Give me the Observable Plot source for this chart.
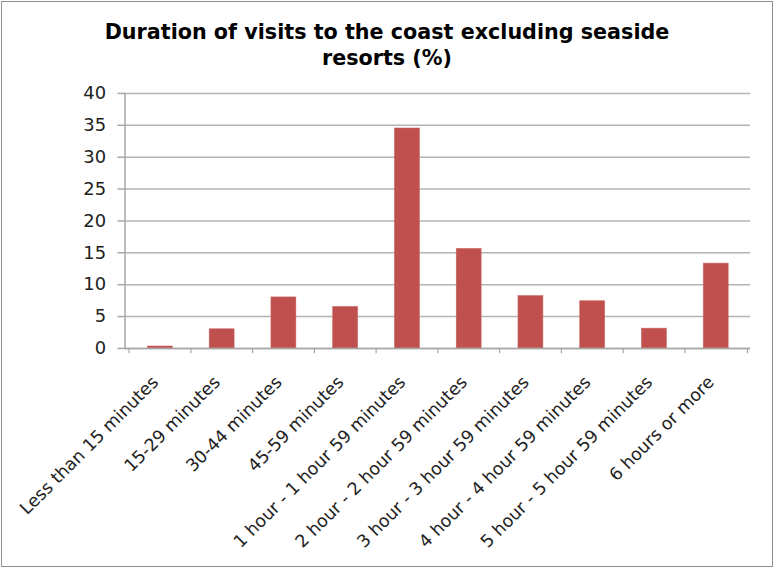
<!DOCTYPE html>
<html>
<head>
<meta charset="utf-8">
<script src="https://cdn.jsdelivr.net/npm/d3@7"></script>
<script src="https://cdn.jsdelivr.net/npm/@observablehq/plot@0.6"></script>
<style>
  html, body { margin: 0; padding: 0; background: #fff; }
  #frame {
    position: relative; box-sizing: border-box;
    width: 772px; height: 566px; margin: 1px;
    border: 1px solid #8f8f8f; background: #fff; overflow: hidden;
  }
  #title {
    position: absolute; left: 0; top: 17px; width: 100%;
    text-align: center; font-family: "DejaVu Sans", Verdana, sans-serif;
    font-weight: bold; font-size: 20.7px; line-height: 26px; color: #000;
  }
  #chart { position: absolute; left: -1px; top: 73px; }
</style>
</head>
<body>
<div id="frame">
  <div id="title">Duration of visits to the coast excluding seaside<br>resorts (%)</div>
  <div id="chart"></div>
</div>
<script>
const categories = [
  "Less than 15 minutes",
  "15-29 minutes",
  "30-44 minutes",
  "45-59 minutes",
  "1 hour - 1 hour 59 minutes",
  "2 hour - 2 hour 59 minutes",
  "3 hour - 3 hour 59 minutes",
  "4 hour - 4 hour 59 minutes",
  "5 hour - 5 hour 59 minutes",
  "6 hours or more"
];
const values = [0.3, 3.0, 8.0, 6.5, 34.5, 15.6, 8.2, 7.4, 3.1, 13.3];
const yTicks = [0, 5, 10, 15, 20, 25, 30, 35, 40];

const data = categories.map((c, i) => ({category: c, value: values[i]}));

const W = 774, H = 480, ML = 124, MR = 22;
const step = (W - ML - MR) / categories.length;

const chart = Plot.plot({
  width: W,
  height: H,
  marginLeft: ML,
  marginRight: MR,
  marginTop: 18,
  marginBottom: 206,
  style: {fontFamily: "DejaVu Sans, Verdana, sans-serif", color: "#222", background: "transparent"},
  x: {domain: categories, paddingInner: 0.6, paddingOuter: 0.3, label: null},
  y: {domain: [0, 40], label: null},
  marks: [
    Plot.gridY(yTicks, {stroke: "#b4b4b4", strokeOpacity: 1, strokeWidth: 1.5}),
    Plot.barY(data, {x: "category", y: "value", fill: "#C0504D", stroke: "#c96562", strokeWidth: 0.6}),
    Plot.ruleY([0], {stroke: "#a6a6a6", strokeWidth: 1.5}),
    Plot.frame({anchor: "left", stroke: "#a6a6a6", strokeWidth: 1.5}),
    Plot.ruleX(categories, {x: d => d, y1: 0, y2: -0.85, stroke: "#a6a6a6", strokeWidth: 1.2, dx: -step / 2}),
    Plot.ruleX([categories[categories.length - 1]], {x: d => d, y1: 0, y2: -0.85, stroke: "#a6a6a6", strokeWidth: 1.2, dx: step / 2}),
    Plot.axisY(yTicks, {tickSize: 7, stroke: "#a6a6a6", strokeWidth: 1.5, tickPadding: 12, fontSize: 18, fill: "#222"}),
    Plot.axisX({tickSize: 0, tickRotate: -45, tickPadding: 31, dx: -5, fontSize: 17.5, fill: "#222", textAnchor: "end"})
  ]
});
document.getElementById("chart").appendChild(chart);
</script>
</body>
</html>
